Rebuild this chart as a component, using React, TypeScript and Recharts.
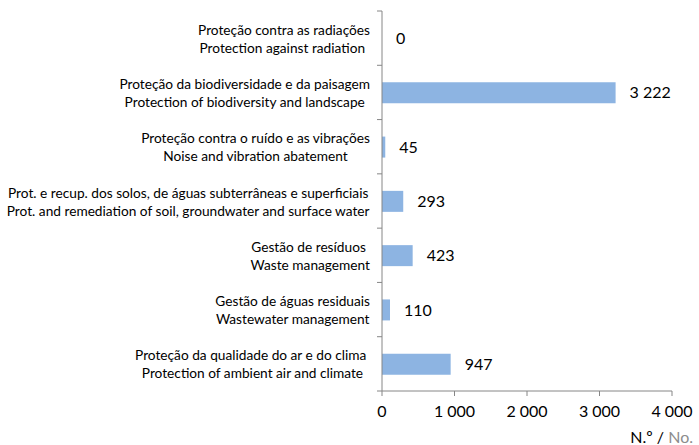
import React from "react";
import { BarChart, Bar, XAxis, YAxis, LabelList, Label } from "recharts";

const ptLabels = [
  "Proteção contra as radiações",
  "Proteção da biodiversidade e da paisagem",
  "Proteção contra o ruído e as vibrações",
  "Prot. e recup. dos solos, de águas subterrâneas e superficiais",
  "Gestão de resíduos ",
  "Gestão de águas residuais",
  "Proteção da qualidade do ar e do clima ",
];
const enLabels = [
  "Protection against radiation ",
  "Protection of biodiversity and landscape",
  "Noise and vibration abatement",
  "Prot. and remediation of soil, groundwater and surface water",
  "Waste management",
  "Wastewater management",
  "Protection of ambient air and climate",
];
const values = [0, 3222, 45, 293, 423, 110, 947];
const xTicks = [0, 1000, 2000, 3000, 4000];

const W = 699;
const H = 445;
const TOP = 11;
const AXIS_X = 382;
const RIGHT = 27;
const X_AXIS_H = 54;
const FONT = "Lato, 'Open Sans', sans-serif";
const CAT_SIZE = 13.7;
const AXIS_COLOR = "#868686";
const BAND = (H - TOP - X_AXIS_H) / ptLabels.length;

const data = ptLabels.map((pt, i) => ({
  name: pt + "|" + enLabels[i],
  value: values[i],
}));

const fmt = (v: number) => String(v).replace(/\B(?=(\d{3})+(?!\d))/g, " ");

let ctx: CanvasRenderingContext2D | null = null;
function measure(text: string, size: number) {
  if (!ctx) ctx = document.createElement("canvas").getContext("2d");
  if (!ctx) return text.length * size * 0.5;
  ctx.font = `${size}px Lato`;
  return ctx.measureText(text).width;
}

function CategoryTick(props: any) {
  const { x, y, index } = props;
  const pt = ptLabels[index];
  const en = enLabels[index];
  const w = Math.max(measure(pt, CAT_SIZE), measure(en, CAT_SIZE));
  const cx = x - 12 - w / 2;
  const half = BAND / 2;
  const common = {
    textAnchor: "middle" as const,
    dominantBaseline: "central" as const,
    fontSize: CAT_SIZE,
    fontFamily: FONT,
    fill: "#000",
    style: { whiteSpace: "pre" as const },
  };
  return (
    <g>
      <text x={cx} y={y - 9} {...common}>{pt}</text>
      <text x={cx} y={y + 9} {...common}>{en}</text>
      <line x1={x - 5} x2={x} y1={y - half} y2={y - half} stroke={AXIS_COLOR} />
      {index === ptLabels.length - 1 && (
        <line x1={x - 5} x2={x} y1={y + half} y2={y + half} stroke={AXIS_COLOR} />
      )}
    </g>
  );
}

function AxisTitle(props: any) {
  const vb = props.viewBox;
  return (
    <text x={vb.x + vb.width + 21} y={vb.y + vb.height - 2} textAnchor="end" fontSize={16} fontFamily={FONT}>
      <tspan fill="#000">N.º / </tspan>
      <tspan fill="#8c8c8c">No.</tspan>
    </text>
  );
}

export default function App() {
  return (
    <div style={{ position: "absolute", left: 0, top: 0 }}>
      <BarChart
        width={W}
        height={H}
        data={data}
        layout="vertical"
        margin={{ top: TOP, right: RIGHT, bottom: 0, left: 0 }}
        barSize={21}
      >
        <XAxis
          type="number"
          domain={[0, 4000]}
          ticks={xTicks}
          tickFormatter={fmt}
          height={X_AXIS_H}
          tickSize={5}
          tickMargin={10}
          stroke={AXIS_COLOR}
          tick={{ fill: "#000", fontSize: 16, fontFamily: FONT }}
        >
          <Label content={AxisTitle} />
        </XAxis>
        <YAxis
          type="category"
          dataKey="name"
          width={AXIS_X}
          interval={0}
          tickLine={false}
          tickSize={0}
          tickMargin={0}
          stroke={AXIS_COLOR}
          tick={<CategoryTick />}
        />
        <Bar dataKey="value" fill="#8db4e2" minPointSize={0.01} isAnimationActive={false}>
          <LabelList
            dataKey="value"
            position="right"
            offset={14}
            formatter={(v: any) => fmt(Number(v))}
            fill="#000"
            fontSize={16}
            fontFamily={FONT}
          />
        </Bar>
      </BarChart>
    </div>
  );
}
